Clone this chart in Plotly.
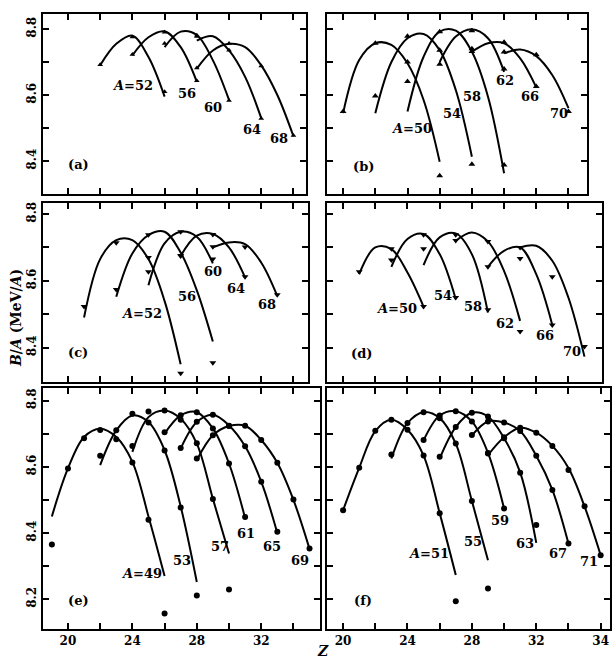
import plotly.graph_objects as go

# ---------------- data ----------------
# (a) even-even, A = 4n
a_mass = [52, 56, 60, 64, 68]
a_line_z = [[22, 23, 24, 25, 26], [24, 25, 26, 27, 28], [26, 27, 28, 29, 30],
            [28, 29, 30, 31, 32], [28, 29, 30, 31, 32, 33, 34]]
a_line_ba = [[8.690, 8.755, 8.780, 8.715, 8.595], [8.720, 8.775, 8.793, 8.745, 8.640],
             [8.745, 8.792, 8.782, 8.705, 8.585], [8.765, 8.778, 8.735, 8.655, 8.530],
             [8.680, 8.735, 8.755, 8.745, 8.690, 8.600, 8.475]]
a_pt_z = [[22, 24, 26], [24, 26, 28], [26, 28, 30], [28, 30, 32], [28, 30, 32, 34]]
a_pt_ba = [[8.692, 8.776, 8.610], [8.723, 8.790, 8.643], [8.756, 8.781, 8.583],
           [8.777, 8.736, 8.529], [8.682, 8.756, 8.688, 8.477]]

# (b) even-even, A = 4n+2
b_mass = [50, 54, 58, 62, 66, 70]
b_line_z = [[20, 21, 22, 23, 24, 25, 26], [22, 23, 24, 25, 26, 27, 28],
            [24, 25, 26, 27, 28, 29, 30], [26, 27, 28, 29, 30],
            [28, 29, 30, 31, 32], [30, 31, 32, 33, 34]]
b_line_ba = [[8.545, 8.706, 8.757, 8.752, 8.696, 8.585, 8.398],
             [8.545, 8.700, 8.772, 8.785, 8.736, 8.615, 8.413],
             [8.550, 8.716, 8.792, 8.795, 8.731, 8.595, 8.363],
             [8.700, 8.777, 8.799, 8.772, 8.670],
             [8.731, 8.757, 8.757, 8.711, 8.623],
             [8.726, 8.738, 8.718, 8.660, 8.560]]
b_pt_z = [[20, 22, 24, 26], [22, 24, 26, 28], [24, 26, 28, 30], [26, 28, 30],
          [28, 30, 32], [30, 32, 34]]
b_pt_ba = [[8.550, 8.757, 8.700, 8.355], [8.597, 8.778, 8.736, 8.390],
           [8.641, 8.792, 8.732, 8.388], [8.693, 8.795, 8.679],
           [8.740, 8.760, 8.626], [8.730, 8.722, 8.550]]

# (c) odd-odd, A = 4n
c_mass = [52, 56, 60, 64, 68]
c_line_z = [[21, 22, 23, 24, 25, 26, 27], [23, 24, 25, 26, 27, 28, 29],
            [25, 26, 27, 28, 29], [27, 28, 29, 30, 31], [29, 30, 31, 32, 33]]
c_line_ba = [[8.490, 8.665, 8.722, 8.722, 8.665, 8.540, 8.350],
             [8.552, 8.682, 8.737, 8.747, 8.685, 8.572, 8.418],
             [8.587, 8.712, 8.747, 8.732, 8.652],
             [8.674, 8.735, 8.740, 8.700, 8.610],
             [8.700, 8.715, 8.710, 8.655, 8.555]]
c_pt_z = [[21, 23, 25, 27], [23, 25, 27, 29], [25, 27, 29], [27, 29, 31], [29, 31, 33]]
c_pt_ba = [[8.523, 8.714, 8.670, 8.323], [8.574, 8.738, 8.674, 8.355],
           [8.627, 8.747, 8.665], [8.676, 8.739, 8.612], [8.702, 8.701, 8.558]]

# (d) odd-odd, A = 4n+2
d_mass = [50, 54, 58, 62, 66, 70]
d_line_z = [[21, 22, 23, 24, 25], [23, 24, 25, 26, 27], [25, 26, 27, 28, 29],
            [27, 28, 29, 30, 31], [29, 30, 31, 32, 33], [31, 32, 33, 34, 35]]
d_line_ba = [[8.620, 8.700, 8.695, 8.625, 8.523],
             [8.642, 8.725, 8.740, 8.680, 8.545],
             [8.647, 8.730, 8.742, 8.680, 8.505],
             [8.720, 8.745, 8.718, 8.630, 8.480],
             [8.642, 8.690, 8.700, 8.620, 8.468],
             [8.700, 8.705, 8.660, 8.550, 8.373]]
d_pt_z = [[21, 23, 25], [23, 25, 27], [25, 27, 29], [27, 29, 31], [29, 31, 33], [31, 33, 35]]
d_pt_ba = [[8.627, 8.696, 8.523], [8.662, 8.738, 8.550], [8.696, 8.738, 8.513],
           [8.721, 8.718, 8.448], [8.642, 8.667, 8.468], [8.700, 8.612, 8.403]]

# (e) odd A = 4n+1
e_mass = [49, 53, 57, 61, 65, 69]
e_line_z = [[19, 20, 21, 22, 23, 24, 25, 26], [22, 23, 24, 25, 26, 27, 28],
            [24, 25, 26, 27, 28, 29, 30], [26, 27, 28, 29, 30, 31],
            [27, 28, 29, 30, 31, 32, 33], [28, 29, 30, 31, 32, 33, 34, 35]]
e_line_ba = [[8.450, 8.595, 8.690, 8.715, 8.690, 8.615, 8.450, 8.270],
             [8.605, 8.710, 8.755, 8.735, 8.650, 8.480, 8.252],
             [8.645, 8.750, 8.770, 8.745, 8.670, 8.503, 8.338],
             [8.700, 8.755, 8.765, 8.716, 8.610, 8.445],
             [8.655, 8.735, 8.757, 8.725, 8.662, 8.555, 8.400],
             [8.620, 8.695, 8.723, 8.724, 8.681, 8.612, 8.500, 8.352]]
e_pt_z = [[19, 20, 21, 22, 23, 24, 25, 26], [22, 23, 24, 25, 26, 27, 28],
          [24, 25, 26, 27, 28, 29, 30], [26, 27, 28, 29, 30, 31],
          [27, 28, 29, 30, 31, 32, 33], [28, 29, 30, 31, 32, 33, 34, 35]]
e_pt_ba = [[8.365, 8.595, 8.686, 8.711, 8.683, 8.613, 8.440, 8.157],
           [8.633, 8.710, 8.760, 8.734, 8.649, 8.477, 8.211],
           [8.663, 8.767, 8.770, 8.742, 8.671, 8.503, 8.229],
           [8.704, 8.756, 8.765, 8.716, 8.610, 8.448],
           [8.657, 8.736, 8.757, 8.724, 8.662, 8.555, 8.404],
           [8.625, 8.695, 8.723, 8.724, 8.681, 8.612, 8.501, 8.353]]

# (f) odd A = 4n+3
f_mass = [51, 55, 59, 63, 67, 71]
f_line_z = [[20, 21, 22, 23, 24, 25, 26, 27], [23, 24, 25, 26, 27, 28, 29],
            [25, 26, 27, 28, 29, 30], [26, 27, 28, 29, 30, 31, 32],
            [28, 29, 30, 31, 32, 33, 34], [29, 30, 31, 32, 33, 34, 35, 36]]
f_line_ba = [[8.469, 8.597, 8.708, 8.742, 8.712, 8.634, 8.460, 8.273],
             [8.625, 8.732, 8.765, 8.747, 8.670, 8.497, 8.318],
             [8.680, 8.755, 8.768, 8.737, 8.642, 8.474],
             [8.625, 8.720, 8.763, 8.752, 8.686, 8.583, 8.370],
             [8.695, 8.737, 8.734, 8.708, 8.633, 8.530, 8.368],
             [8.635, 8.689, 8.718, 8.703, 8.663, 8.596, 8.480, 8.333]]
f_pt_z = [[20, 21, 22, 23, 24, 25, 26, 27], [23, 24, 25, 26, 27, 28, 29],
          [25, 26, 27, 28, 29, 30], [26, 27, 28, 29, 30, 31, 32],
          [28, 29, 30, 31, 32, 33, 34], [29, 30, 31, 32, 33, 34, 35, 36]]
f_pt_ba = [[8.469, 8.597, 8.709, 8.742, 8.712, 8.634, 8.460, 8.194],
           [8.637, 8.732, 8.765, 8.747, 8.670, 8.497, 8.232],
           [8.681, 8.755, 8.768, 8.737, 8.642, 8.474],
           [8.630, 8.720, 8.763, 8.752, 8.686, 8.582, 8.424],
           [8.696, 8.737, 8.734, 8.708, 8.633, 8.530, 8.368],
           [8.640, 8.689, 8.718, 8.703, 8.663, 8.590, 8.481, 8.333]]

# axis tick values / labels
z_ticks = [20, 22, 24, 26, 28, 30, 32, 34]
z_ticks_f = [20, 22, 24, 26, 28, 30, 32, 34, 36]
z_labels = ["20", "", "24", "", "28", "", "32", ""]
z_labels_f = ["20", "", "24", "", "28", "", "32", "", "34"]
ba_ticks_top = [8.4, 8.5, 8.6, 8.7, 8.8]
ba_labels_top = ["8.4", "", "8.6", "", "8.8"]
ba_ticks_bot = [8.2, 8.3, 8.4, 8.5, 8.6, 8.7, 8.8]
ba_labels_bot = ["8.2", "", "8.4", "", "8.6", "", "8.8"]

# ---------------- layout geometry ----------------
FONT = "DejaVu Serif"
panels = [
    dict(tag="(a)", mass=a_mass, lz=a_line_z, lb=a_line_ba, pz=a_pt_z, pb=a_pt_ba, sym="triangle-up", msize=5,
         xd=[43/612, 306/612], yd=[1-194/658, 1-14/658], xr=[18.45, 34.78], yr=[8.300, 8.8455],
         labz=[24.0, 27.4, 29.0, 31.4, 33.1], labb=[8.630, 8.606, 8.563, 8.497, 8.469], tagpos=(20.65, 8.388),
         left=True, bottom=False),
    dict(tag="(b)", mass=b_mass, lz=b_line_z, lb=b_line_ba, pz=b_pt_z, pb=b_pt_ba, sym="triangle-up", msize=6,
         xd=[327/612, 587/612], yd=[1-194/658, 1-14/658], xr=[19.0, 35.15], yr=[8.300, 8.8455],
         labz=[24.27, 26.75, 28.0, 30.06, 31.6, 33.4], labb=[8.499, 8.545, 8.595, 8.645, 8.595, 8.545],
         tagpos=(21.26, 8.383), left=False, bottom=False),
    dict(tag="(c)", mass=c_mass, lz=c_line_z, lb=c_line_ba, pz=c_pt_z, pb=c_pt_ba, sym="triangle-down", msize=6,
         xd=[43/612, 308/612], yd=[1-382/658, 1-203/658], xr=[18.45, 34.91], yr=[8.297, 8.833],
         labz=[24.58, 27.37, 29.03, 30.43, 32.34], labb=[8.503, 8.552, 8.627, 8.578, 8.528],
         tagpos=(20.65, 8.385), left=True, bottom=False),
    dict(tag="(d)", mass=d_mass, lz=d_line_z, lb=d_line_ba, pz=d_pt_z, pb=d_pt_ba, sym="triangle-down", msize=6,
         xd=[327/612, 602/612], yd=[1-382/658, 1-203/658], xr=[19.0, 36.09], yr=[8.297, 8.833],
         labz=[23.33, 26.23, 28.1, 30.06, 32.55, 34.2], labb=[8.518, 8.557, 8.522, 8.473, 8.437, 8.388],
         tagpos=(21.16, 8.383), left=False, bottom=False),
    dict(tag="(e)", mass=e_mass, lz=e_line_z, lb=e_line_ba, pz=e_pt_z, pb=e_pt_ba, sym="circle", msize=6,
         xd=[43/612, 320/612], yd=[1-629/658, 1-388/658], xr=[18.45, 35.65], yr=[8.110, 8.838],
         labz=[24.58, 27.06, 29.44, 31.06, 32.65, 34.4], labb=[8.278, 8.318, 8.358, 8.399, 8.358, 8.318],
         tagpos=(20.65, 8.197), left=True, bottom=True),
    dict(tag="(f)", mass=f_mass, lz=f_line_z, lb=f_line_ba, pz=f_pt_z, pb=f_pt_ba, sym="circle", msize=6,
         xd=[327/612, 610/612], yd=[1-629/658, 1-388/658], xr=[19.0, 36.58], yr=[8.110, 8.838],
         labz=[25.3, 28.1, 29.75, 31.3, 33.37, 35.3], labb=[8.338, 8.373, 8.439, 8.368, 8.338, 8.313],
         tagpos=(21.26, 8.197), left=False, bottom=True),
]

fig = go.Figure()
annotations = []
layout_axes = {}

for i, p in enumerate(panels, start=1):
    xa = "x" if i == 1 else f"x{i}"
    ya = "y" if i == 1 else f"y{i}"
    for z, b in zip(p["lz"], p["lb"]):
        fig.add_trace(go.Scatter(x=z, y=b, mode="lines", xaxis=xa, yaxis=ya,
                                 line=dict(color="black", width=2.0, shape="spline", smoothing=1.0),
                                 showlegend=False, hoverinfo="skip"))
    for z, b in zip(p["pz"], p["pb"]):
        fig.add_trace(go.Scatter(x=z, y=b, mode="markers", xaxis=xa, yaxis=ya,
                                 marker=dict(color="black", size=p["msize"], symbol=p["sym"]),
                                 showlegend=False))
    for k, (m, lz, lb) in enumerate(zip(p["mass"], p["labz"], p["labb"])):
        txt = f"<i>A</i>={m}" if k == 0 else str(m)
        annotations.append(dict(x=lz, y=lb, xref=xa, yref=ya, text=txt, showarrow=False,
                                font=dict(family=FONT, size=13, color="black", weight="bold")))
    annotations.append(dict(x=p["tagpos"][0], y=p["tagpos"][1], xref=xa, yref=ya, text=p["tag"],
                            showarrow=False, font=dict(family=FONT, size=13, color="black", weight="bold")))

    is_f = (p["tag"] == "(f)")
    xkey = "xaxis" if i == 1 else f"xaxis{i}"
    ykey = "yaxis" if i == 1 else f"yaxis{i}"
    layout_axes[xkey] = dict(
        domain=p["xd"], range=p["xr"], anchor=ya,
        tickmode="array", tickvals=z_ticks_f if is_f else z_ticks,
        ticktext=z_labels_f if is_f else z_labels,
        showticklabels=p["bottom"], ticks="inside", ticklen=6, tickwidth=1.5, tickcolor="black",
        showline=True, linewidth=2, linecolor="black", mirror="allticks",
        showgrid=False, zeroline=False,
        tickfont=dict(family=FONT, size=12, color="black", weight="bold"),
    )
    layout_axes[ykey] = dict(
        domain=p["yd"], range=p["yr"], anchor=xa,
        tickmode="array",
        tickvals=ba_ticks_bot if p["bottom"] else ba_ticks_top,
        ticktext=ba_labels_bot if p["bottom"] else ba_labels_top,
        showticklabels=p["left"], ticks="inside", ticklen=6, tickwidth=1.5, tickcolor="black",
        showline=True, linewidth=2, linecolor="black", mirror="allticks",
        showgrid=False, zeroline=False, tickangle=-90,
        tickfont=dict(family=FONT, size=12, color="black", weight="bold"),
    )

annotations.append(dict(x=16/612, y=1-318/658, xref="paper", yref="paper",
                        xanchor="center", yanchor="middle",
                        text="<i>B</i>/<i>A</i> (MeV/<i>A</i>)", textangle=-90, showarrow=False,
                        font=dict(family=FONT, size=14, color="black", weight="bold")))
annotations.append(dict(x=323/612, y=1-651/658, xref="paper", yref="paper",
                        xanchor="center", yanchor="middle",
                        text="<i>Z</i>", showarrow=False,
                        font=dict(family=FONT, size=14, color="black", weight="bold")))

fig.update_layout(
    width=612, height=658, autosize=False,
    margin=dict(l=0, r=0, t=0, b=0),
    paper_bgcolor="white", plot_bgcolor="white",
    showlegend=False,
    annotations=annotations,
    **layout_axes,
)

fig.write_html("out.html", config={"displayModeBar": False},
               post_script="document.body.style.margin='0';document.body.style.overflow='hidden';")
